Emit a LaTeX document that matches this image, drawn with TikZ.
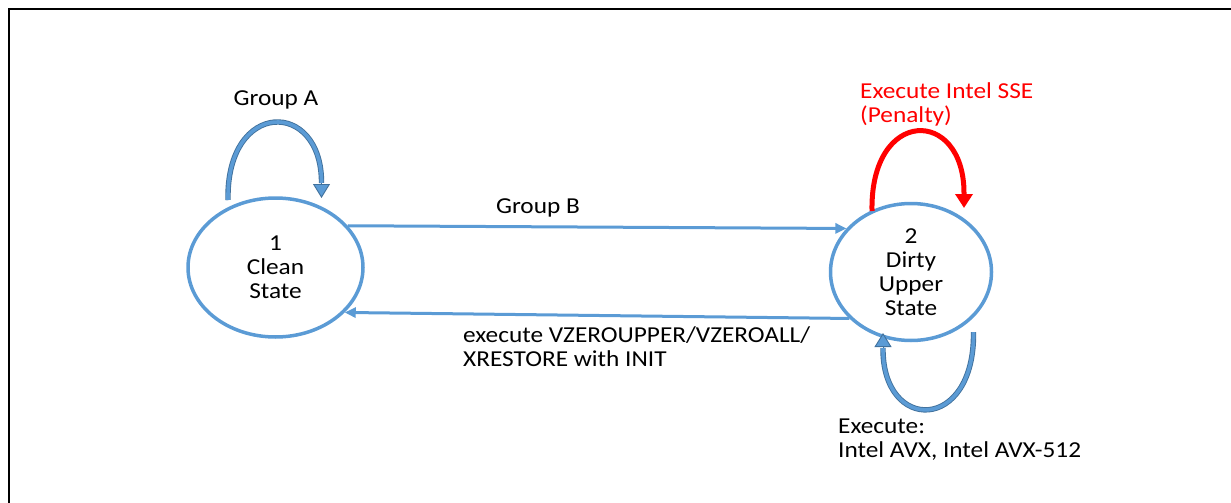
\documentclass[tikz,border=0pt]{standalone}
\usepackage{fontspec}
\setmainfont[FakeStretch=1.11]{Carlito}
\usetikzlibrary{arrows.meta,shapes.geometric}
\definecolor{ltblue}{HTML}{5B9BD5}
\definecolor{dkblue}{HTML}{41719C}
\definecolor{pred}{HTML}{FF0000}
\begin{document}
\begin{tikzpicture}[x=1pt,y=-1pt,
  txt/.style={font=\fontsize{22.8}{24}\selectfont, inner sep=0pt, align=left},
  statebox/.style={ellipse, draw=ltblue, line width=3.5pt, align=center,
    font=\fontsize{22.8}{24}\selectfont, inner sep=0pt},
  straightarrow/.style={draw=ltblue, line width=3pt, -{Triangle[length=11pt,width=10pt]}},
  loopshaft/.style={draw=dkblue, double=ltblue, double distance=3.6pt, line width=0.9pt},
  loophead/.style={draw=dkblue, line width=0.9pt, -{Triangle[length=14pt,width=17pt,fill=ltblue]}},
  redloop/.style={draw=pred, line width=5pt, -{Triangle[length=14pt,width=17pt]}}
]
\useasboundingbox (0,0) rectangle (1231,503);
\draw[line width=2pt] (9,503) -- (9,9) -- (1231,9);

\node[statebox, minimum width=175pt, minimum height=139pt] (s1) at (275.5,267.5) {1\\Clean\\State};
\node[statebox, minimum width=161pt, minimum height=137pt] (s2) at (911,272) {2\\Dirty\\Upper\\State};

% straight transitions
\draw[straightarrow] (s1.30) -- (s2.146);
\draw[straightarrow] (s2.217) -- (s1.327);

% Group A loop
\coordinate (a1) at (228,200);
\coordinate (a1b) at (321.5,183);
\coordinate (a1t) at (321.5,198);
\draw[loopshaft] (a1) .. controls (226,99) and (322,99) .. (a1b);
\draw[loophead] (a1b) -- (a1t);

% red loop
\coordinate (r1) at (872,211);
\coordinate (r1b) at (964,193);
\coordinate (r1t) at (964,208);
\draw[redloop] (r1) .. controls (870,107) and (964,107) .. (r1b) -- (r1t);

% bottom loop
\coordinate (b1) at (973.5,332);
\coordinate (b1b) at (883,348);
\coordinate (b1t) at (883,333);
\draw[loopshaft] (b1) .. controls (975,433) and (882,433) .. (b1b);
\draw[loophead] (b1b) -- (b1t);

% labels
\node[txt] (la) at (276,100) {Group A};
\node[txt, text=pred, anchor=west] (lsse) at (860,104) {Execute Intel SSE\\(Penalty)};
\node[txt] (lb) at (538,208) {Group B};
\node[txt, anchor=west] (lz) at (463,347) {execute VZEROUPPER/VZEROALL/\\XRESTORE with INIT};
\node[txt, anchor=west] (lavx) at (838,440) {Execute:\\Intel AVX, Intel AVX-512};
\end{tikzpicture}
\end{document}
